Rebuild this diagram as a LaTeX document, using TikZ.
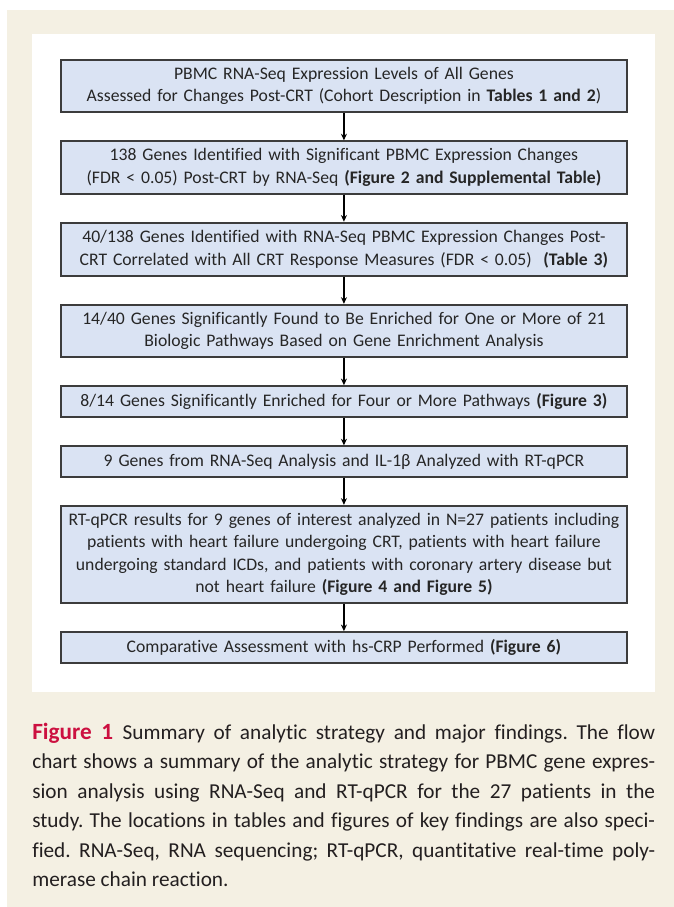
\documentclass[tikz,border=0pt]{standalone}
\usepackage{fontspec}
\setmainfont[Ligatures=NoCommon]{Carlito}
\usetikzlibrary{positioning,arrows.meta}

\definecolor{panelbeige}{RGB}{244,240,227}
\definecolor{boxblue}{RGB}{218,227,243}
\definecolor{boxline}{RGB}{60,60,60}
\definecolor{figred}{RGB}{204,16,64}
\definecolor{captext}{RGB}{35,31,32}

\begin{document}
\begin{tikzpicture}[
    stage/.style={draw=boxline, line width=1.5pt, fill=boxblue, text=black!85,
      text width=14.6cm, inner xsep=0.1875cm, inner ysep=2pt, align=center,
      minimum height=1.38cm, font=\fontsize{13.3}{16.8}\selectfont},
    onerow/.style={stage, minimum height=0.80cm},
    flow/.style={-{Stealth[length=5pt,width=4.5pt]}, line width=0.9pt},
    node distance=0.72cm
  ]
  \useasboundingbox (0,0) rectangle (17.833,-23.998);
  % page panels
  \fill[panelbeige] (0.185,-0.265) rectangle (17.833,-23.998);
  \fill[white] (0.847,-0.90) rectangle (17.33,-18.31);

  % flow chart
  \node[stage, anchor=north] (s1) at (9.10,-1.561)
    {PBMC RNA-Seq Expression Levels of All Genes\\
     Assessed for Changes Post-CRT (Cohort Description in \textbf{Tables 1 and 2})};
  \node[stage, below=of s1] (s2)
    {138 Genes Identified with Significant PBMC Expression Changes\\
     (FDR < 0.05) Post-CRT by RNA-Seq \textbf{(Figure 2 and Supplemental Table)}};
  \node[stage, below=of s2, minimum height=1.40cm] (s3)
    {40/138 Genes Identified with RNA-Seq PBMC Expression Changes Post-\\
     CRT Correlated with All CRT Response Measures (FDR < 0.05)\ \ \textbf{(Table 3)}};
  \node[stage, below=of s3] (s4)
    {14/40 Genes Significantly Found to Be Enriched for One or More of 21\\
     Biologic Pathways Based on Gene Enrichment Analysis};
  \node[onerow, below=of s4, minimum height=0.82cm] (s5)
    {8/14 Genes Significantly Enriched for Four or More Pathways \textbf{(Figure 3)}};
  \node[onerow, below=of s5] (s6)
    {9 Genes from RNA-Seq Analysis and IL-1β Analyzed with RT-qPCR};
  \node[stage, below=of s6, minimum height=2.57cm] (s7)
    {RT-qPCR results for 9 genes of interest analyzed in N=27 patients including\\
     patients with heart failure undergoing CRT, patients with heart failure\\
     undergoing standard ICDs, and patients with coronary artery disease but\\
     not heart failure \textbf{(Figure 4 and Figure 5)}};
  \node[onerow, below=of s7, minimum height=0.82cm] (s8)
    {Comparative Assessment with hs-CRP Performed \textbf{(Figure 6)}};

  \draw[flow] (s1) -- (s2);
  \draw[flow] (s2) -- (s3);
  \draw[flow] (s3) -- (s4);
  \draw[flow] (s4) -- (s5);
  \draw[flow] (s5) -- (s6);
  \draw[flow] (s6) -- (s7);
  \draw[flow] (s7) -- (s8);

  % caption
  \node[anchor=north west, inner sep=0pt, text width=16.48cm, align=justify,
        text=captext, font=\fontsize{16}{22.1}\selectfont\frenchspacing] (cap) at (0.847,-19.13)
    {{\color{figred}\fontsize{17.5}{22.1}\selectfont\bfseries Figure 1}\hspace{0.45em}Summary of analytic strategy and major findings. The flow\linebreak
     chart shows a summary of the analytic strategy for PBMC gene expres-\linebreak
     sion analysis using RNA-Seq and RT-qPCR for the 27 patients in the\linebreak
     study. The locations in tables and figures of key findings are also speci-\linebreak
     fied. RNA-Seq, RNA sequencing; RT-qPCR, quantitative real-time poly-\linebreak
     merase chain reaction.};
\end{tikzpicture}
\end{document}
